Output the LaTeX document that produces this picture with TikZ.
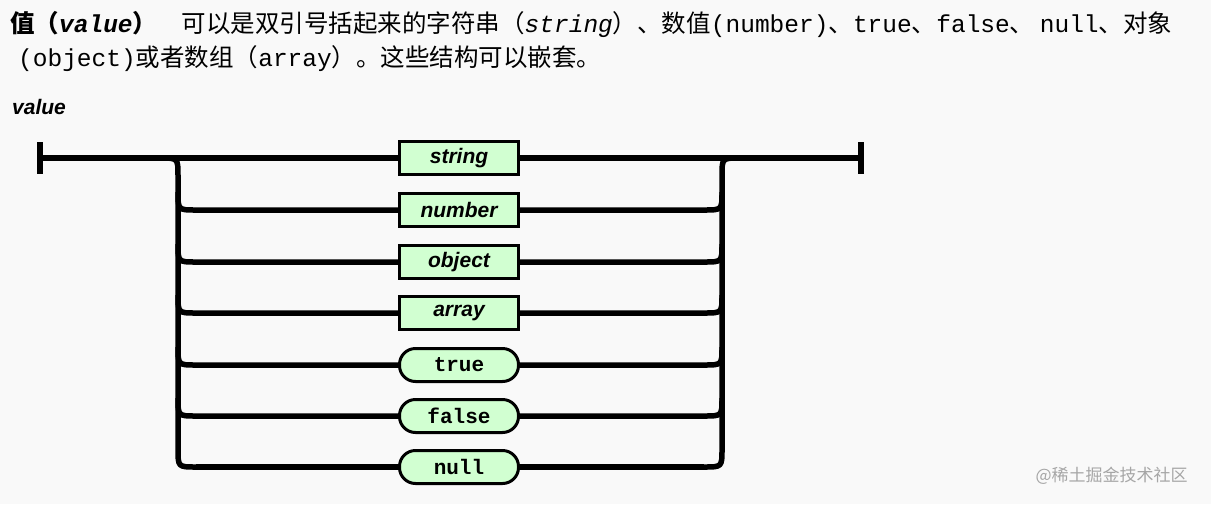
\documentclass[tikz,border=0pt]{standalone}
\usepackage{fontspec}
\setmainfont{Liberation Sans}
\newfontfamily\cjk{Noto Sans CJK SC}
\newfontfamily\mono{Liberation Mono}
\begin{document}
\begin{tikzpicture}[x=1pt,y=-1pt,
  rail/.style={line width=5.5pt,line join=round},
  kw/.style={draw,line width=3pt,fill=green!18,minimum width=119pt,minimum height=33pt,inner sep=0pt,font=\fontsize{21}{21}\selectfont\bfseries\itshape},
  lit/.style={draw,line width=3pt,fill=green!18,rounded corners=16pt,minimum width=119pt,minimum height=33pt,inner sep=0pt,font=\fontsize{21}{21}\selectfont\mono\bfseries}]
\fill[gray!5] (0,0) rectangle (1211,504);
\useasboundingbox (0,0) rectangle (1211,504);
\node[anchor=west,inner sep=0pt,font=\fontsize{24.5}{24.5}\selectfont] (t1) at (10,24) {{\cjk\bfseries 值（}{\mono\bfseries\itshape value}{\cjk\bfseries ）}\quad{\cjk 可以是双引号括起来的字符串（}{\mono\itshape string}{\cjk ）、数值}{\mono (number)}{\cjk 、}{\mono true}{\cjk 、}{\mono false}{\cjk 、 }{\mono null}{\cjk 、对象}};
\node[anchor=west,inner sep=0pt,font=\fontsize{24.5}{24.5}\selectfont] (t2) at (18,59) {{\mono (object)}{\cjk 或者数组（}{\mono array}{\cjk ）。这些结构可以嵌套。}};
\node[anchor=west,inner sep=0pt,font=\fontsize{21}{21}\selectfont\bfseries\itshape] (lbl) at (12,107) {value};
\draw[rail] (40,142) -- (40,174);
\draw[rail] (861,142) -- (861,174);
\draw[rail] (40,158) -- (861,158);
\draw[rail] (160,158) .. controls (178,158) .. (178,176) -- (178,449) .. controls (178,467) .. (196,467);
\draw[rail] (740,158) .. controls (722,158) .. (722,176) -- (722,449) .. controls (722,467) .. (704,467);
\foreach \y in {210,262,313,365,416}{
 \draw[rail] (178,\y-18) .. controls (178,\y) .. (196,\y) -- (704,\y) .. controls (722,\y) .. (722,\y-18);}
\draw[rail] (196,467) -- (704,467);
\node[kw] (string) at (459,158) {string};
\node[kw] (number) at (459,210) {number};
\node[kw] (object) at (459,262) {object};
\node[kw] (array) at (459,313) {array};
\node[lit] (true) at (459,365) {true};
\node[lit] (false) at (459,416) {false};
\node[lit] (null) at (459,467) {null};
\node[anchor=west,text=gray!70,font=\cjk\fontsize{17}{17}\selectfont] (wm) at (1032,476) {@稀土掘金技术社区};
\end{tikzpicture}
\end{document}
